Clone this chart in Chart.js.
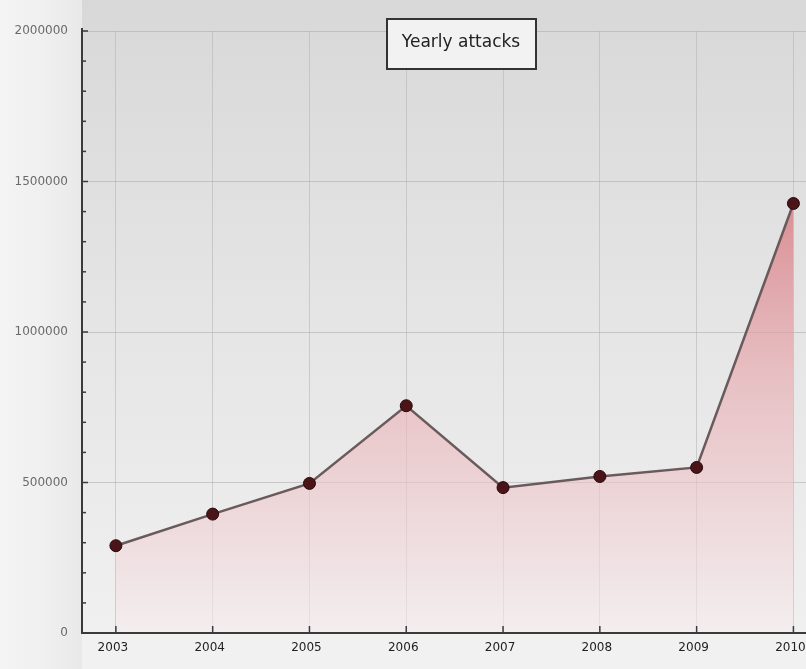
<!DOCTYPE html>
<html>
<head>
<meta charset="utf-8">
<script src="https://cdn.jsdelivr.net/npm/chart.js@4.4.1/dist/chart.umd.min.js"></script>
<style>
html,body{margin:0;padding:0;background:#f1f1f1;}
#wrap{width:806px;height:669px;position:relative;}
</style>
</head>
<body>
<div id="wrap"><canvas id="c" width="806" height="669"></canvas></div>
<script>
const years = [2003, 2004, 2005, 2006, 2007, 2008, 2009, 2010];
const yearLabels = ['2003', '2004', '2005', '2006', '2007', '2008', '2009', '2010'];
const attacks = [290000, 395000, 497000, 755000, 483000, 520000, 550000, 1427000];
const yTickValues = [0, 500000, 1000000, 1500000, 2000000];
const chartTitle = 'Yearly attacks';

const bgPlugin = {
  id: 'bg',
  beforeDraw(chart) {
    const {ctx, chartArea: a, width, height} = chart;
    ctx.save();
    const og = ctx.createLinearGradient(0, 0, 82, 0);
    og.addColorStop(0, '#f4f4f4');
    og.addColorStop(0.5, '#f0f0f0');
    og.addColorStop(1, '#e9e9e9');
    ctx.fillStyle = '#f1f1f1';
    ctx.fillRect(0, 0, width, height);
    ctx.fillStyle = og;
    ctx.fillRect(0, 0, 82, height);
    const g = ctx.createLinearGradient(0, 0, 0, a.bottom);
    g.addColorStop(0, '#d8d8d8');
    g.addColorStop(0.5, '#e5e5e5');
    g.addColorStop(1, '#f0f0f0');
    ctx.fillStyle = g;
    ctx.fillRect(a.left, 0, width - a.left, a.bottom);
    ctx.restore();
  },
  afterDraw(chart) {
    const {ctx, chartArea: a, scales} = chart;
    ctx.save();
    ctx.strokeStyle = '#3a3a3a';
    ctx.lineWidth = 2;
    ctx.beginPath();
    ctx.moveTo(a.left, a.top - 3);
    ctx.lineTo(a.left, a.bottom);
    ctx.lineTo(chart.width, a.bottom);
    ctx.stroke();
    ctx.lineWidth = 1.5;
    for (let v = 0; v <= 2000000; v += 100000) {
      const y = scales.y.getPixelForValue(v);
      const len = (v % 500000 === 0) ? 6 : 4;
      ctx.beginPath();
      ctx.moveTo(a.left, y);
      ctx.lineTo(a.left + len, y);
      ctx.stroke();
    }
    ctx.font = '12px "DejaVu Sans", sans-serif';
    ctx.fillStyle = '#222';
    ctx.textAlign = 'center';
    ctx.textBaseline = 'middle';
    years.forEach((yr, i) => {
      const x = scales.x.getPixelForValue(yr);
      ctx.beginPath();
      ctx.moveTo(x, a.bottom);
      ctx.lineTo(x, a.bottom - 7);
      ctx.stroke();
      ctx.fillText(yearLabels[i], x - 3, a.bottom + 15);
    });
    ctx.font = '17px "DejaVu Sans", sans-serif';
    ctx.fillStyle = '#f2f2f2';
    ctx.fillRect(387, 19, 149, 50);
    ctx.strokeStyle = '#333';
    ctx.lineWidth = 2;
    ctx.strokeRect(387, 19, 149, 50);
    ctx.fillStyle = '#222';
    ctx.fillText(chartTitle, 461, 43);
    ctx.restore();
  }
};

const ctx = document.getElementById('c').getContext('2d');
new Chart(ctx, {
  type: 'line',
  data: {
    datasets: [{
      data: years.map((y, i) => ({x: y, y: attacks[i]})),
      borderColor: '#6a5a5c',
      borderWidth: 2.5,
      pointRadius: 6,
      pointHoverRadius: 6,
      pointBackgroundColor: '#4a1418',
      pointBorderColor: '#2a0a0c',
      pointBorderWidth: 1,
      tension: 0,
      clip: false,
      fill: 'origin',
      backgroundColor: (c) => {
        const a = c.chart.chartArea;
        if (!a) return 'rgba(230,170,170,0.5)';
        const g = c.chart.ctx.createLinearGradient(0, a.top + 160, 0, a.bottom);
        g.addColorStop(0, 'rgba(214,110,118,0.75)');
        g.addColorStop(0.45, 'rgba(232,170,175,0.6)');
        g.addColorStop(1, 'rgba(245,236,238,0.6)');
        return g;
      }
    }]
  },
  options: {
    responsive: false,
    animation: false,
    layout: {autoPadding: false, padding: {top: 31, right: 0, left: 0, bottom: 0}},
    plugins: {
      legend: {display: false},
      title: {display: false},
      tooltip: {enabled: false}
    },
    scales: {
      x: {
        type: 'linear',
        min: 2002.65,
        max: 2010.13,
        afterBuildTicks: (s) => { s.ticks = years.map(v => ({value: v})); },
        afterFit: (s) => { s.height = 36; },
        ticks: {display: false},
        grid: {color: 'rgba(175,180,185,0.55)', lineWidth: 1, drawTicks: false},
        border: {display: false}
      },
      y: {
        min: 0,
        max: 2000000,
        afterBuildTicks: (s) => { s.ticks = yTickValues.map(v => ({value: v})); },
        afterFit: (s) => { s.width = 82; },
        ticks: {
          color: '#6a6a6a',
          font: {size: 12, family: 'DejaVu Sans'},
          padding: 14,
          callback: (v) => String(v)
        },
        grid: {color: (c) => c.tick && c.tick.value === 0 ? 'rgba(0,0,0,0)' : 'rgba(170,170,170,0.55)', lineWidth: 1, drawTicks: false},
        border: {display: false}
      }
    }
  },
  plugins: [bgPlugin]
});
</script>
</body>
</html>
